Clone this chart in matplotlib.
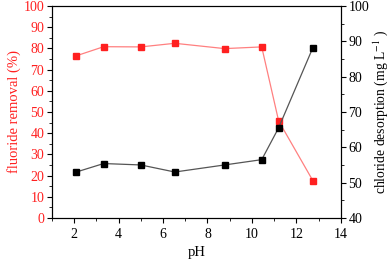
import matplotlib
matplotlib.use("Agg")
import matplotlib.pyplot as plt
from matplotlib.ticker import MultipleLocator

plt.rcParams['font.family'] = ['Liberation Serif', 'DejaVu Serif']
plt.rcParams['mathtext.fontset'] = 'stix'

ph = [2.1, 3.33, 5.0, 6.53, 8.77, 10.44, 11.2, 12.74]
fluoride_removal = [76.5, 80.8, 80.7, 82.4, 79.9, 80.7, 45.8, 17.6]
chloride_desorption = [53.0, 55.4, 55.0, 53.0, 55.0, 56.5, 65.5, 88.2]

red = '#ff2020'

fig = plt.figure(figsize=(3.9, 2.61), dpi=100)
ax = fig.add_axes([0.133, 0.165, 0.741, 0.812])
ax.plot(ph, fluoride_removal, color='#ff8080', lw=0.9, marker='s', ms=4.5,
        mfc=red, mec=red, zorder=3)
ax.set_xlim(1, 14)
ax.set_ylim(0, 100)
ax.xaxis.set_major_locator(MultipleLocator(2))
ax.xaxis.set_minor_locator(MultipleLocator(1))
ax.yaxis.set_major_locator(MultipleLocator(10))
ax.yaxis.set_minor_locator(MultipleLocator(5))
ax.tick_params(axis='both', which='both', direction='out', labelsize=10)
ax.tick_params(which='major', length=3.5)
ax.tick_params(which='minor', length=2)
ax.tick_params(axis='y', colors=red, labelcolor=red, pad=2)
ax.tick_params(axis='y', color='black')
ax.set_xlabel('pH', fontsize=10.5)
ax.set_ylabel('fluoride removal (%)', color=red, fontsize=10.5, labelpad=2)

ax2 = ax.twinx()
ax2.plot(ph, chloride_desorption, color='#555555', lw=0.9, marker='s', ms=4.5,
         mfc='black', mec='black', zorder=3)
ax2.set_ylim(40, 100)
ax2.yaxis.set_major_locator(MultipleLocator(10))
ax2.yaxis.set_minor_locator(MultipleLocator(5))
ax2.tick_params(axis='y', which='both', direction='out', labelsize=10, pad=2)
ax2.tick_params(which='major', length=3.5)
ax2.tick_params(which='minor', length=2)
ax2.set_ylabel('chloride desorption (mg L$^{-1}$ )', fontsize=9.8)
ax2.yaxis.set_label_coords(1.105, 0.5)

fig.savefig('out.png', dpi=100)
